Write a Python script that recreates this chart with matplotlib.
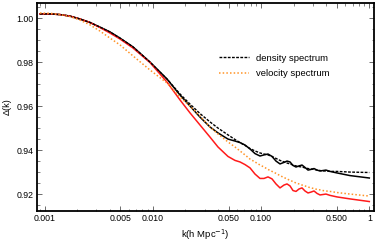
import numpy as np
import matplotlib
matplotlib.use("Agg")
import matplotlib.pyplot as plt
from matplotlib.ticker import FixedLocator, FixedFormatter, MultipleLocator

plt.rcParams['font.family'] = ['Liberation Sans', 'DejaVu Sans']

# --- data (shared k grid, h/Mpc) ---
k = [0.000905, 0.001119, 0.001385, 0.001713, 0.00212, 0.002623, 0.003244,
     0.004013, 0.004964, 0.006548, 0.0094, 0.0135, 0.0178, 0.02203, 0.02724,
     0.03371, 0.03996, 0.04943, 0.05739, 0.06383, 0.0710,
     0.07898, 0.08782, 0.09768, 0.1063, 0.1158, 0.1261, 0.1373, 0.1495,
     0.1628, 0.1736, 0.1850, 0.1971, 0.2102, 0.2240, 0.2388, 0.2545, 0.2714,
     0.2892, 0.3083, 0.3286, 0.3503, 0.3733, 0.3979, 0.4334, 0.5029, 0.6632,
     1.0]

delta_solid_black = [1.0020, 1.0020, 1.0017, 1.0010, 0.9997, 0.9981, 0.9960,
                     0.9938, 0.9910, 0.9870, 0.9801, 0.9724, 0.9651, 0.9601,
                     0.9551, 0.9506, 0.9479, 0.9451, 0.9442, 0.9435, 0.9424,
                     0.9406, 0.9385, 0.9374, 0.9379, 0.9383, 0.9372, 0.9351,
                     0.9338, 0.9345, 0.9351, 0.9347, 0.9331, 0.9324, 0.9329,
                     0.9333, 0.9322, 0.9310, 0.9313, 0.9317, 0.9310, 0.9306,
                     0.9308, 0.9310, 0.9304, 0.9297, 0.9285, 0.9274]

delta_density = [1.0020, 1.0020, 1.0017, 1.0010, 0.9997, 0.9981, 0.9960,
                 0.9938, 0.9910, 0.9870, 0.9801, 0.9724, 0.9656, 0.9610,
                 0.9567, 0.9529, 0.9501, 0.9470, 0.9449, 0.9435, 0.9422,
                 0.9408, 0.9397, 0.9388, 0.9383, 0.9379, 0.9372, 0.9363,
                 0.9354, 0.9347, 0.9342, 0.9338, 0.9333, 0.9329, 0.9326,
                 0.9324, 0.9320, 0.9317, 0.9315, 0.9313, 0.9310, 0.9308,
                 0.9306, 0.9306, 0.9304, 0.9304, 0.9301, 0.9299]

delta_velocity = [1.0024, 1.0023, 1.0017, 1.0008, 0.9992, 0.9970, 0.9942,
                  0.9910, 0.9879, 0.9829, 0.9765, 0.9706, 0.9642, 0.9601,
                  0.9556, 0.9506, 0.9474, 0.9438, 0.9415, 0.9397, 0.9379,
                  0.9360, 0.9347, 0.9333, 0.9324, 0.9313, 0.9304, 0.9295,
                  0.9285, 0.9276, 0.9270, 0.9263, 0.9258, 0.9251, 0.9247,
                  0.9242, 0.9238, 0.9233, 0.9229, 0.9226, 0.9222, 0.9220,
                  0.9217, 0.9215, 0.9213, 0.9208, 0.9201, 0.9192]

delta_solid_red = [1.0020, 1.0020, 1.0017, 1.0010, 0.9997, 0.9981, 0.9958,
                   0.9933, 0.9906, 0.9865, 0.9799, 0.9710, 0.9629, 0.9570,
                   0.9515, 0.9460, 0.9415, 0.9372, 0.9354, 0.9347, 0.9335,
                   0.9320, 0.9292, 0.9272, 0.9272, 0.9279, 0.9270, 0.9247,
                   0.9229, 0.9242, 0.9247, 0.9238, 0.9217, 0.9213, 0.9224,
                   0.9229, 0.9215, 0.9206, 0.9210, 0.9215, 0.9204, 0.9197,
                   0.9199, 0.9201, 0.9195, 0.9188, 0.9179, 0.9167]

x_ticks = [0.001, 0.005, 0.01, 0.05, 0.1, 0.5, 1.0]
x_tick_labels = ["0.001", "0.005", "0.010", "0.050", "0.100", "0.500", "1"]
y_ticks = [0.92, 0.94, 0.96, 0.98, 1.00]
y_tick_labels = ["0.92", "0.94", "0.96", "0.98", "1.00"]

fig = plt.figure(figsize=(3.79, 2.45), dpi=100)
ax = fig.add_axes([37 / 379, 1 - 211 / 245, 337 / 379, 208.3 / 245])

ax.plot(k, delta_solid_black, color="black", lw=1.1)
ax.plot(k, delta_solid_red, color="#ff1a1a", lw=1.1)
ax.plot(k, delta_density, color="black", lw=1.0, dashes=(2.0, 1.0),
        label="density spectrum")
ax.plot(k, delta_velocity, color="#ff9326", lw=1.1, dashes=(1.0, 1.4),
        label="velocity spectrum")

ax.set_xscale("log")
ax.set_xlim(0.000849, 1.105)
ax.set_ylim(0.9124, 1.0071)

ax.xaxis.set_major_locator(FixedLocator(x_ticks))
ax.xaxis.set_major_formatter(FixedFormatter(x_tick_labels))
minor_x = [m * 10.0 ** e for e in range(-4, 1) for m in range(1, 10)]
minor_x = [v for v in minor_x if all(abs(v - t) > 1e-12 for t in x_ticks)]
ax.xaxis.set_minor_locator(FixedLocator(minor_x))
ax.xaxis.set_minor_formatter(FixedFormatter([""] * len(minor_x)))

ax.yaxis.set_major_locator(FixedLocator(y_ticks))
ax.yaxis.set_major_formatter(FixedFormatter(y_tick_labels))
ax.yaxis.set_minor_locator(MultipleLocator(0.005))

ax.tick_params(which="both", direction="in", top=True, right=True,
               color="#555555", labelsize=6.3, pad=2.5)
ax.tick_params(which="major", length=3.5, width=0.6)
ax.tick_params(which="minor", length=1.8, width=0.5)

for side in ax.spines.values():
    side.set_linewidth(1.3)
    side.set_color("black")

ax.set_xlabel("k(h Mpc$^{-1}$)", fontsize=6.8, labelpad=3)
ax.set_ylabel("Δ(k)", fontsize=6.6, labelpad=3)

ax.legend(loc="upper left", bbox_to_anchor=(0.54, 0.755), frameon=False,
          fontsize=6.8, handlelength=3.2, handletextpad=0.75, labelspacing=0.65,
          borderaxespad=0.0, borderpad=0.0)

fig.savefig("out.png", dpi=100)
